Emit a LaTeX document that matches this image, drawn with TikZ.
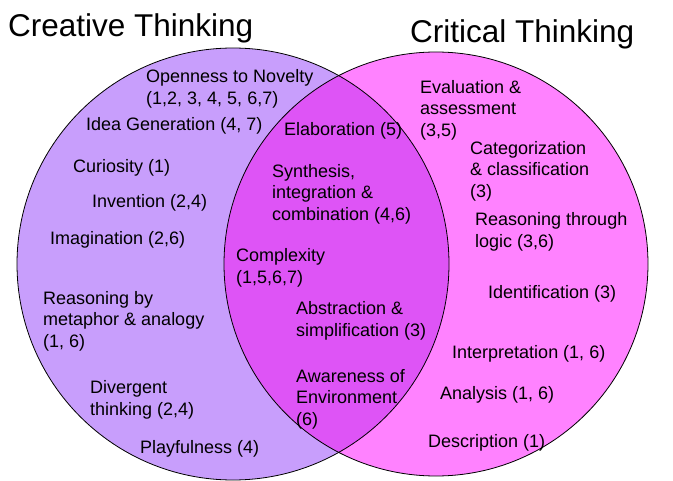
\documentclass[tikz,border=0pt]{standalone}
\usepackage{fontspec}
\setmainfont{Liberation Sans}
\definecolor{criativo}{RGB}{200,158,252}
\definecolor{critico}{RGB}{255,130,255}
\definecolor{ambos}{RGB}{222,84,246}
\begin{document}
\begin{tikzpicture}[x=1pt,y=-1pt]
% Definição de estilos
\tikzset{
  item/.style={anchor=west, inner sep=0pt, align=left, font=\fontsize{18}{21.5}\selectfont},
  titulo/.style={anchor=west, inner sep=0pt, font=\fontsize{31.5}{36}\selectfont},
  borda/.style={draw=black, line width=0.8pt}
}
\fill[white] (0,0) rectangle (673,481);
\useasboundingbox (0,0) rectangle (673,481);

% Círculos
\coordinate (cCria) at (233,264);
\coordinate (cCrit) at (436,264);
\fill[criativo] (cCria) circle[radius=216pt];
\fill[critico] (cCrit) circle[radius=212pt];
\begin{scope}
  \clip (cCria) circle[radius=216pt];
  \fill[ambos] (cCrit) circle[radius=212pt];
\end{scope}
\draw[borda] (cCria) circle[radius=216pt];
\draw[borda] (cCrit) circle[radius=212pt];

% Títulos
\node[titulo] (tCria) at (8,28) {Creative Thinking};
\node[titulo] (tCrit) at (410,34) {Critical Thinking};

% Pensamento criativo
\node[item] (novelty) at (146,89) {Openness to Novelty\\(1,2, 3, 4, 5, 6,7)};
\node[item] (idea) at (86,126) {Idea Generation (4, 7)};
\node[item] (curiosity) at (73,168) {Curiosity (1)};
\node[item] (invention) at (92,203) {Invention (2,4)};
\node[item] (imagination) at (50,240) {Imagination (2,6)};
\node[item] (metaphor) at (43,321) {Reasoning by\\metaphor \& analogy\\(1, 6)};
\node[item] (divergent) at (90,400) {Divergent\\thinking (2,4)};
\node[item] (playful) at (140,449) {Playfulness (4)};

% Interseção
\node[item] (elaboration) at (284,131) {Elaboration (5)};
\node[item] (synthesis) at (272,194) {Synthesis,\\integration \&\\combination (4,6)};
\node[item] (complexity) at (236,268) {Complexity\\(1,5,6,7)};
\node[item] (abstraction) at (296,321) {Abstraction \&\\simplification (3)};
\node[item] (awareness) at (296,399) {Awareness of\\Environment\\(6)};

% Pensamento crítico
\node[item] (evaluation) at (420,110) {Evaluation \&\\assessment\\(3,5)};
\node[item] (categorization) at (470,171) {Categorization\\\& classification\\(3)};
\node[item] (logic) at (475,232) {Reasoning through\\logic (3,6)};
\node[item] (identification) at (488,294) {Identification (3)};
\node[item] (interpretation) at (452,354) {Interpretation (1, 6)};
\node[item] (analysis) at (440,395) {Analysis (1, 6)};
\node[item] (description) at (428,443) {Description (1)};

\end{tikzpicture}
\end{document}
